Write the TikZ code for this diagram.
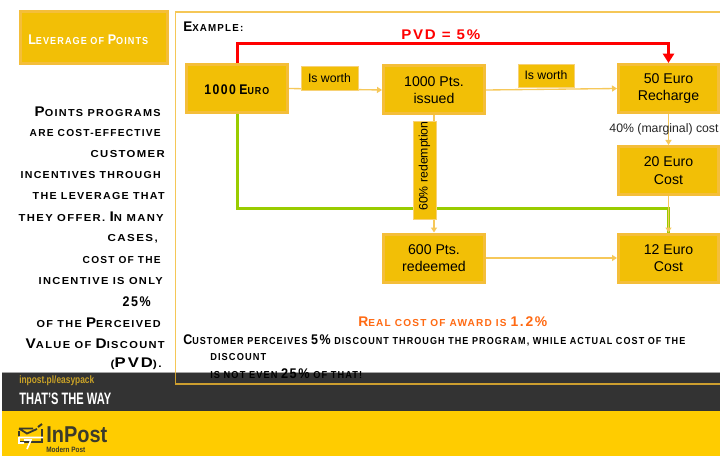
\documentclass[tikz,border=0pt]{standalone}
\usepackage{fontspec}
\usepackage{graphicx}
\setmainfont{Liberation Sans}
\newfontfamily\wf[LetterSpace=12]{Liberation Sans}
\usetikzlibrary{arrows.meta}
\newdimen\pxu \pxu=.75pt
\definecolor{boxfill}{HTML}{F2BF06}
\definecolor{boxedge}{HTML}{F4BE3A}
\definecolor{linecol}{HTML}{F6C85A}
\definecolor{band}{HTML}{333333}
\definecolor{brand}{HTML}{FFCC00}
\definecolor{panel}{HTML}{F3B92E}
\definecolor{awardc}{HTML}{FF6A13}
\definecolor{okgreen}{HTML}{99CC00}
\definecolor{urlc}{HTML}{C9A227}
\definecolor{logoc}{HTML}{3B3A2C}
\newcommand\C[1]{{\fontsize{10.5}{11}\selectfont #1}}
\newcommand\W[2]{\resizebox{#1\pxu}{\height}{\fontsize{7.6}{8}\wf\bfseries #2}}
\newcommand\F[3]{\resizebox{#1\pxu}{\height}{\fontsize{#2}{#2}\selectfont #3}}
\tikzset{
  bx/.style={rectangle,draw=boxedge,fill=boxfill,line width=2.25pt,align=center,inner sep=0pt,
    font=\fontsize{10.6}{13}\selectfont,text=black},
  midbox/.style={bx,minimum width=75.75pt,minimum height=36pt},
  rightbox/.style={bx,minimum width=75pt,minimum height=36pt},
  lbl/.style={rectangle,fill=boxfill,draw=boxedge!70!white,line width=.6pt,inner sep=0pt,
    font=\fontsize{9.2}{11}\selectfont,text=black},
  wt/.style={inner sep=0pt,text=black,anchor=west},
  conn/.style={draw=linecol,line width=1pt,-{Triangle[length=3.75pt,width=4.5pt]}},
}
\begin{document}
\begin{tikzpicture}[x=.75pt,y=-.75pt]
\useasboundingbox (0,0) rectangle (720,456);
\fill[white] (0,0) rectangle (720,456);
% footer
\fill[band] (2,372) rectangle (720,411);
\fill[brand] (2,411) rectangle (720,456);
\draw[black!35,line width=.6pt] (2,372) -- (720,372);
% panel
\draw[panel,opacity=.8,line width=.9pt] (720,12) -- (175.5,12) -- (175.5,384) -- (720,384);
% title
\node[bx,minimum width=110.25pt,minimum height=39pt,text=white] (title) at (94,37.5) {};
\node[wt,text=white] (titletext) at (28,40) {\W{120}{\C{L}EVERAGE OF \C{P}OINTS}};
% left text
\node[wt,anchor=east] (t1) at (161,112) {\W{126}{\C{P}OINTS PROGRAMS}};
\node[wt,anchor=east] (t2) at (161,133) {\W{131}{ARE COST-EFFECTIVE}};
\node[wt,anchor=east] (t3) at (165,154) {\W{74}{CUSTOMER}};
\node[wt,anchor=east] (t4) at (161,175) {\W{140}{INCENTIVES THROUGH}};
\node[wt,anchor=east] (t5) at (165,196) {\W{132}{THE LEVERAGE THAT}};
\node[wt,anchor=east] (t6) at (164,217) {\W{145}{THEY OFFER. \C{I}N MANY}};
\node[wt,anchor=east] (t7) at (158,239) {\W{50}{CASES,}};
\node[wt,anchor=east] (t8) at (161,260) {\W{78}{COST OF THE}};
\node[wt,anchor=east] (t9) at (163,281) {\W{124}{INCENTIVE IS ONLY}};
\node[wt,anchor=east] (t10) at (151,302) {\W{28}{\C{25\%}}};
\node[wt,anchor=east] (t11) at (161,323) {\W{124}{OF THE \C{P}ERCEIVED}};
\node[wt,anchor=east] (t12) at (165,344) {\W{139}{\C{V}ALUE OF \C{D}ISCOUNT}};
\node[wt,anchor=east] (t13) at (162,364) {\W{51}{(\C{PVD}).}};
% panel text
\node[wt] (example) at (183,27) {\W{60}{\C{E}XAMPLE:}};
\node[wt,text=red] (pvd) at (401,35) {\W{79}{\C{PVD = 5\%}}};
% boxes
\node[midbox] (euro) at (237,88.5) {};
\node[wt] (eurotext) at (204,90) {\W{65}{\C{1000} \C{E}URO}};
\node[midbox] (pts) at (434,90) {1000 Pts.\\issued};
\node[rightbox] (recharge) at (668.5,88.5) {50 Euro\\Recharge};
\node[rightbox] (cost20) at (668.5,170.5) {20 Euro\\Cost};
\node[midbox] (redeemed) at (434,258) {600 Pts.\\redeemed};
\node[rightbox] (cost12) at (668.5,258) {12 Euro\\Cost};
% connectors
\coordinate (redtop) at (237,44);
\coordinate (greenlow) at (237,208.5);
\draw[okgreen,line width=2.25pt] (euro.south) |- (greenlow) -| (cost12.north);
\draw[red,line width=2.25pt,-{Triangle[length=7pt,width=8.25pt]}] (euro.north) |- (redtop) -| (recharge.north);
\draw[conn] (euro.east) -- (pts.west);
\draw[conn] (pts.east) -- (recharge.west);
\draw[conn] (recharge.south) -- (cost20.north);
\draw[conn] (cost20.south) -- (cost12.north);
\draw[conn] (pts.south) -- (redeemed.north);
\draw[conn] (redeemed.east) -- (cost12.west);
% connector labels
\node[lbl,minimum width=42.75pt,minimum height=18pt] (worth1) at (329.5,78) {Is worth};
\node[lbl,minimum width=42pt,minimum height=17.25pt] (worth2) at (546,75.5) {Is worth};
\node[lbl,rotate=90,minimum width=73.5pt,minimum height=17.25pt] (redeem) at (424.5,170) {\hspace*{6pt}60\% redemption};
\node[inner sep=0pt,font=\fontsize{9.2}{11}\selectfont,text=black!85] (marginal) at (664,129) {40\% (marginal) cost};
% bottom panel text
\node[wt,text=awardc] (award) at (358,322) {\W{189}{\C{R}EAL COST OF AWARD IS \C{1.2\%}}};
\node[wt] (cust1) at (183,340) {\W{502}{\C{C}USTOMER PERCEIVES \C{5\%} DISCOUNT THROUGH THE PROGRAM, WHILE ACTUAL COST OF THE}};
\node[wt] (cust2) at (210,357) {\W{56}{DISCOUNT}};
\node[wt] (cust3) at (210,374) {\W{152}{IS NOT EVEN \C{25\%} OF THAT!}};
% footer text
\node[wt,text=urlc] (url) at (19,381) {\F{75}{8}{\bfseries inpost.pl/easypack}};
\node[wt,text=white] (way) at (19,399) {\F{92}{12.4}{\bfseries THAT'S THE WAY}};
\node[wt,text=logoc] (inpost) at (46,435) {\F{61}{17.2}{\bfseries InPost}};
\node[wt,text=logoc] (modern) at (46,449.5) {\F{39}{5.8}{\bfseries Modern Post}};
% logo mark
\draw[logoc,line width=1.35pt] (19,428.5) -- (33,428.5) (19,428.5) -- (27,433.5) -- (37,429) (19,436) -- (19,431) (42,429) -- (42,442) -- (20,442);
\draw[logoc,line width=1.5pt] (38,427) -- (42,424);
\draw[white,line width=1.2pt] (19,437) -- (19,443) -- (24,443) (19,437.5) -- (43,437.5) (24,440) -- (31,440) -- (27,449);
\end{tikzpicture}
\end{document}
